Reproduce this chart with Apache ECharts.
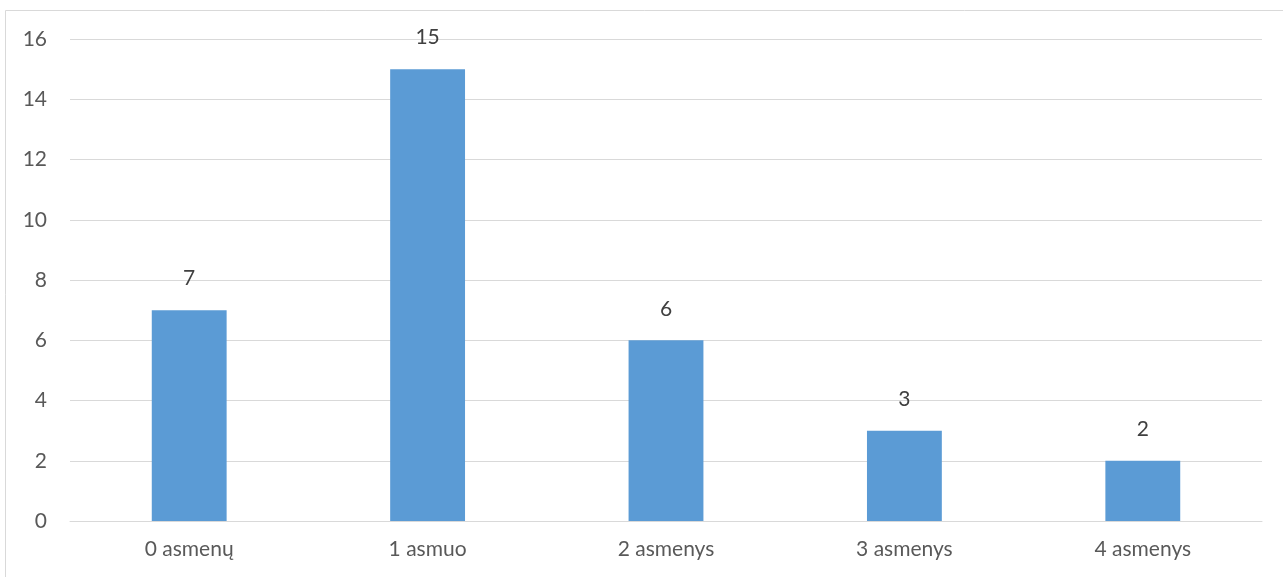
<!DOCTYPE html>
<html>
<head>
<meta charset="utf-8">
<script src="https://cdn.jsdelivr.net/npm/echarts@6/dist/echarts.min.js"></script>
<style>
  html, body { margin: 0; padding: 0; background: #ffffff; }
  #chart { width: 1283px; height: 577px; }
</style>
</head>
<body>
<div id="chart"></div>
<script>
// Household size categories and respondent counts
const categories = ['0 asmenų', '1 asmuo', '2 asmenys', '3 asmenys', '4 asmenys'];
const counts = [7, 15, 6, 3, 2];
const yTicks = { min: 0, max: 16, interval: 2 };

const textColor = '#595959';
const fontFamily = 'Lato, "Open Sans", "Noto Sans", sans-serif';

const chart = echarts.init(document.getElementById('chart'), null, { renderer: 'canvas' });
chart.setOption({
  animation: false,
  backgroundColor: '#ffffff',
  textStyle: { fontFamily: fontFamily },
  graphic: [{
    type: 'rect',
    silent: true,
    shape: { x: 5.5, y: 10.5, width: 1320, height: 620 },
    style: { fill: 'none', stroke: '#d9d9d9', lineWidth: 1 }
  }],
  grid: { left: 70, right: 21, top: 39, bottom: 56, containLabel: false },
  xAxis: {
    type: 'category',
    data: categories,
    axisLine: { show: true, lineStyle: { color: '#d9d9d9', width: 1 } },
    axisTick: { show: false },
    axisLabel: { color: textColor, fontSize: 21, fontFamily: fontFamily, margin: 18 }
  },
  yAxis: {
    type: 'value',
    min: yTicks.min,
    max: yTicks.max,
    interval: yTicks.interval,
    axisLine: { show: false },
    axisTick: { show: false },
    axisLabel: { color: textColor, fontSize: 21, fontFamily: fontFamily, margin: 23 },
    splitLine: { lineStyle: { color: '#d9d9d9', width: 1 } }
  },
  series: [{
    type: 'bar',
    data: counts,
    barWidth: '31.4%',
    itemStyle: { color: '#5b9bd5' },
    label: {
      show: true,
      position: 'top',
      distance: 21,
      color: '#404040',
      fontSize: 21,
      fontFamily: fontFamily
    }
  }]
});
</script>
</body>
</html>
